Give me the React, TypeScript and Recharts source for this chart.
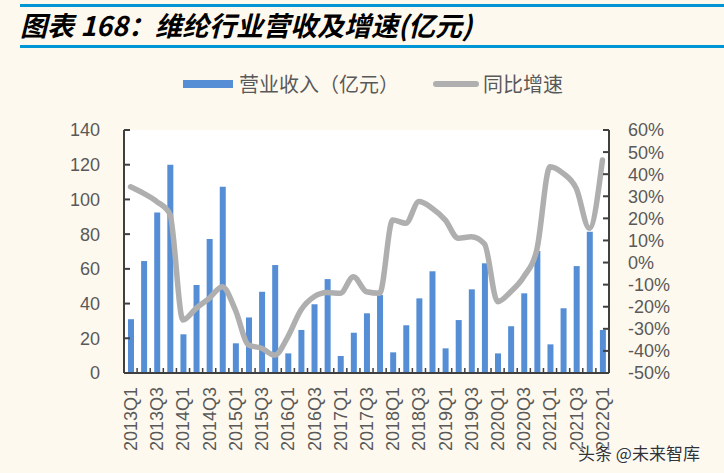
import React from "react"
import { Bar, CartesianGrid, ComposedChart, Line, XAxis, YAxis } from "recharts"

// quarters 2013Q1 .. 2022Q1
const quarters = [
  "2013Q1", "2013Q2", "2013Q3", "2013Q4",
  "2014Q1", "2014Q2", "2014Q3", "2014Q4",
  "2015Q1", "2015Q2", "2015Q3", "2015Q4",
  "2016Q1", "2016Q2", "2016Q3", "2016Q4",
  "2017Q1", "2017Q2", "2017Q3", "2017Q4",
  "2018Q1", "2018Q2", "2018Q3", "2018Q4",
  "2019Q1", "2019Q2", "2019Q3", "2019Q4",
  "2020Q1", "2020Q2", "2020Q3", "2020Q4",
  "2021Q1", "2021Q2", "2021Q3", "2021Q4",
  "2022Q1",
]

// 营业收入（亿元）
const revenue = [
  31, 64.5, 92.5, 120,
  22.3, 50.7, 77.2, 107.3,
  17.1, 32, 46.8, 62.2,
  11.3, 24.8, 39.6, 54.1,
  9.8, 23.2, 34.4, 44.9,
  11.9, 27.5, 43, 58.6,
  14.2, 30.5, 48.2, 63.2,
  11.3, 26.9, 45.9, 70.3,
  16.5, 37.3, 61.6, 81.4,
  24.8,
]

// 同比增速 (%)
const growth = [
  34.3, 31.3, 27.6, 22,
  -26, -20.7, -16.2, -10.9,
  -21.5, -37.3, -38.8, -41.9,
  -33.6, -21.5, -15.5, -13.6,
  -13.9, -6.4, -13.2, -13.9,
  19.3, 17.8, 27.6, 24.6,
  19.3, 11, 11.7, 8.5,
  -17.7, -13.2, -6.4, 6,
  43.4, 40.4, 33.6, 15.5,
  46.4,
]

const leftTicks = [0, 20, 40, 60, 80, 100, 120, 140]
const rightTicks = [-50, -40, -30, -20, -10, 0, 10, 20, 30, 40, 50, 60]

const W = 724
const H = 473
const LEFT_W = 124
const RIGHT_W = 115
const TOP = 130
const X_H = 100

const BG = "#FEF9EF"
const BAR_COLOR = "#558ED5"
const LINE_COLOR = "#AFAFAF"
const AXIS_COLOR = "#404040"
const TEXT_COLOR = "#595959"
const FONT = "'Liberation Sans', Arial, sans-serif"
const CJK = "'Noto Sans CJK SC', 'Liberation Sans', sans-serif"

const chartData = quarters.map((q, i) => ({ q, revenue: revenue[i], growth: growth[i] }))

const step = (W - LEFT_W - RIGHT_W) / quarters.length

const XTick = (props: any) => {
  const { x, y, index, payload } = props
  return (
    <g>
      {index > 0 && (
        <line x1={x - step / 2} x2={x - step / 2} y1={y} y2={y - 5} stroke={AXIS_COLOR} strokeWidth={1.5} />
      )}
      {index % 2 === 0 && (
        <text
          x={x}
          y={y + 14}
          dy="0.36em"
          textAnchor="end"
          transform={`rotate(-90, ${x}, ${y + 14})`}
          fill={TEXT_COLOR}
          fontSize={18}
          fontFamily={FONT}
        >
          {payload.value}
        </text>
      )}
    </g>
  )
}

const LeftTick = (props: any) => {
  const { x, y, payload } = props
  return (
    <g>
      <line x1={x + 24} x2={x + 30} y1={y} y2={y} stroke={AXIS_COLOR} strokeWidth={2} />
      <text x={x} y={y} dy="0.36em" textAnchor="end" fill={TEXT_COLOR} fontSize={18} fontFamily={FONT}>
        {payload.value}
      </text>
    </g>
  )
}

const RightTick = (props: any) => {
  const { x, y, payload } = props
  return (
    <g>
      <line x1={x - 19} x2={x - 25} y1={y} y2={y} stroke={AXIS_COLOR} strokeWidth={2} />
      <text x={x} y={y} dy="0.36em" textAnchor="start" fill={TEXT_COLOR} fontSize={18} fontFamily={FONT}>
        {`${payload.value}%`}
      </text>
    </g>
  )
}

export default function App() {
  return (
    <div style={{ position: "relative", width: W, height: H, background: BG, overflow: "hidden" }}>
      <style>{`body{margin:0}`}</style>

      {/* title block */}
      <div style={{ position: "absolute", left: 20, right: 0, top: 4, height: 3, background: "#0096D6" }} />
      <div
        style={{
          position: "absolute",
          left: 20,
          top: 7,
          fontFamily: CJK,
          fontSize: 27,
          fontWeight: "bold",
          fontStyle: "italic",
          color: "#000",
          lineHeight: "36px",
          whiteSpace: "nowrap",
        }}
      >
        图表 168：维纶行业营收及增速(亿元)
      </div>
      <div style={{ position: "absolute", left: 20, right: 0, top: 45, height: 3, background: "#0096D6" }} />

      {/* legend */}
      <div
        style={{
          position: "absolute",
          top: 69,
          left: 183,
          display: "flex",
          alignItems: "center",
          fontFamily: CJK,
          fontSize: 20,
          color: TEXT_COLOR,
          whiteSpace: "nowrap",
        }}
      >
        <span style={{ display: "inline-block", width: 50, height: 8, background: BAR_COLOR, marginRight: 6 }} />
        <span>营业收入（亿元）</span>
        <span
          style={{
            display: "inline-block",
            width: 46,
            height: 6,
            borderRadius: 3,
            background: LINE_COLOR,
            marginLeft: 34,
            marginRight: 4,
          }}
        />
        <span>同比增速</span>
      </div>

      <div style={{ position: "absolute", left: 0, top: 0 }}>
        <ComposedChart
          width={W}
          height={H}
          data={chartData}
          margin={{ top: TOP, right: 0, bottom: 0, left: 0 }}
          barSize={6}
        >
          <CartesianGrid fill="#FFFFFF" stroke="none" horizontal={false} vertical={false} />
          <XAxis
            dataKey="q"
            height={X_H}
            interval={0}
            tickSize={0}
            tickMargin={0}
            tick={<XTick />}
            axisLine={{ stroke: AXIS_COLOR, strokeWidth: 2 }}
            tickLine={false}
          />
          <YAxis
            yAxisId="left"
            width={LEFT_W}
            domain={[0, 140]}
            ticks={leftTicks}
            interval={0}
            tickSize={0}
            tickMargin={24}
            tick={<LeftTick />}
            axisLine={{ stroke: AXIS_COLOR, strokeWidth: 2 }}
            tickLine={false}
          />
          <YAxis
            yAxisId="right"
            orientation="right"
            width={RIGHT_W}
            domain={[-50, 60]}
            ticks={rightTicks}
            interval={0}
            tickSize={0}
            tickMargin={19}
            tick={<RightTick />}
            axisLine={{ stroke: AXIS_COLOR, strokeWidth: 2 }}
            tickLine={false}
          />
          <Bar yAxisId="left" dataKey="revenue" name="营业收入（亿元）" fill={BAR_COLOR} isAnimationActive={false} />
          <Line
            yAxisId="right"
            type="monotone"
            dataKey="growth"
            name="同比增速"
            stroke={LINE_COLOR}
            strokeWidth={5.5}
            dot={false}
            strokeLinecap="round"
            strokeLinejoin="round"
            isAnimationActive={false}
          />
        </ComposedChart>
      </div>

      {/* watermark */}
      <div
        style={{
          position: "absolute",
          left: 578,
          top: 440,
          fontFamily: CJK,
          fontSize: 17,
          color: "#333",
          textShadow: "0 0 2px #fff, 0 0 2px #fff, 0 0 2px #fff",
          whiteSpace: "nowrap",
        }}
      >
        头条 @未来智库
      </div>
    </div>
  )
}
